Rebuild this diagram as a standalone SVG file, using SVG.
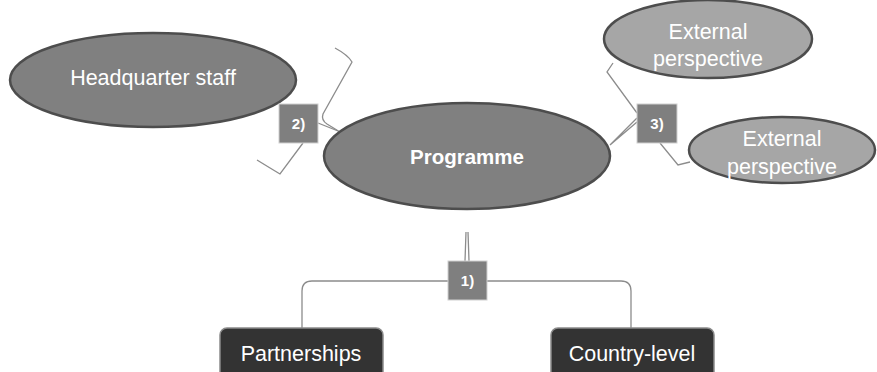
<svg xmlns="http://www.w3.org/2000/svg" width="877" height="372" viewBox="0 0 877 372">
<style>
.bg{fill:#ffffff}
.dark{fill:#808080;stroke:#4d4d4d;stroke-width:2.5}
.light{fill:#a6a6a6;stroke:#4d4d4d;stroke-width:2.5}
.rect{fill:#333333;stroke:#8a8a8a;stroke-width:1.5}
.num{fill:#7f7f7f;stroke:#d0d0d0;stroke-width:1}
.conn{fill:none;stroke:#8c8c8c;stroke-width:1.3}
text{font-family:"Liberation Sans","Open Sans",sans-serif;fill:#ffffff;text-anchor:middle}
.lbl{font-size:21.5px}
.bold{font-size:20.5px;font-weight:bold}
.nl{font-size:15px;font-weight:bold}
</style>
<rect class="bg" x="0" y="0" width="877" height="372"/>
<g id="connectors">
<path class="conn" d="M335,48 Q348,55 352,62 L323,114 Q321,120 327,124 L340,132"/>
<path class="conn" d="M318,123 L338,131"/>
<path class="conn" d="M257,160 Q270,168 280,174 L303,143"/>
<path class="conn" d="M613,63 L607,72 L637,113"/>
<path class="conn" d="M610,145 L637,118 M610,145 L637,122"/>
<path class="conn" d="M660,143 L678,165 L690,162"/>
<path class="conn" d="M466,232 L465,261 M468,232 L469,261"/>
<path class="conn" d="M448,281 L312,281 Q302,281 302,291 L302,328"/>
<path class="conn" d="M487,281 L621,281 Q631,281 631,291 L631,328"/>
</g>
<g id="headquarter">
<ellipse class="dark" cx="153" cy="80" rx="143" ry="47"/>
<text class="lbl" x="153" y="85">Headquarter staff</text>
</g>
<g id="programme">
<ellipse class="dark" cx="467" cy="156" rx="143" ry="53"/>
<text class="bold" x="467" y="164">Programme</text>
</g>
<g id="external1">
<ellipse class="light" cx="708" cy="39" rx="104" ry="39"/>
<text class="lbl" x="708" y="39">External</text>
<text class="lbl" x="708" y="66">perspective</text>
</g>
<g id="external2">
<ellipse class="light" cx="782" cy="150" rx="93" ry="33"/>
<text class="lbl" x="782" y="146">External</text>
<text class="lbl" x="782" y="174">perspective</text>
</g>
<g id="box2">
<rect class="num" x="279" y="104" width="39" height="39"/>
<text class="nl" x="298.5" y="129">2)</text>
</g>
<g id="box3">
<rect class="num" x="637" y="104" width="40" height="39"/>
<text class="nl" x="657" y="129">3)</text>
</g>
<g id="box1">
<rect class="num" x="448" y="261" width="39" height="39"/>
<text class="nl" x="467.5" y="286">1)</text>
</g>
<g id="partnerships">
<rect class="rect" x="220" y="328" width="163" height="60" rx="7"/>
<text class="lbl" x="301" y="361">Partnerships</text>
</g>
<g id="country">
<rect class="rect" x="551" y="328" width="163" height="60" rx="7"/>
<text class="lbl" x="632" y="361">Country-level</text>
</g>
</svg>
